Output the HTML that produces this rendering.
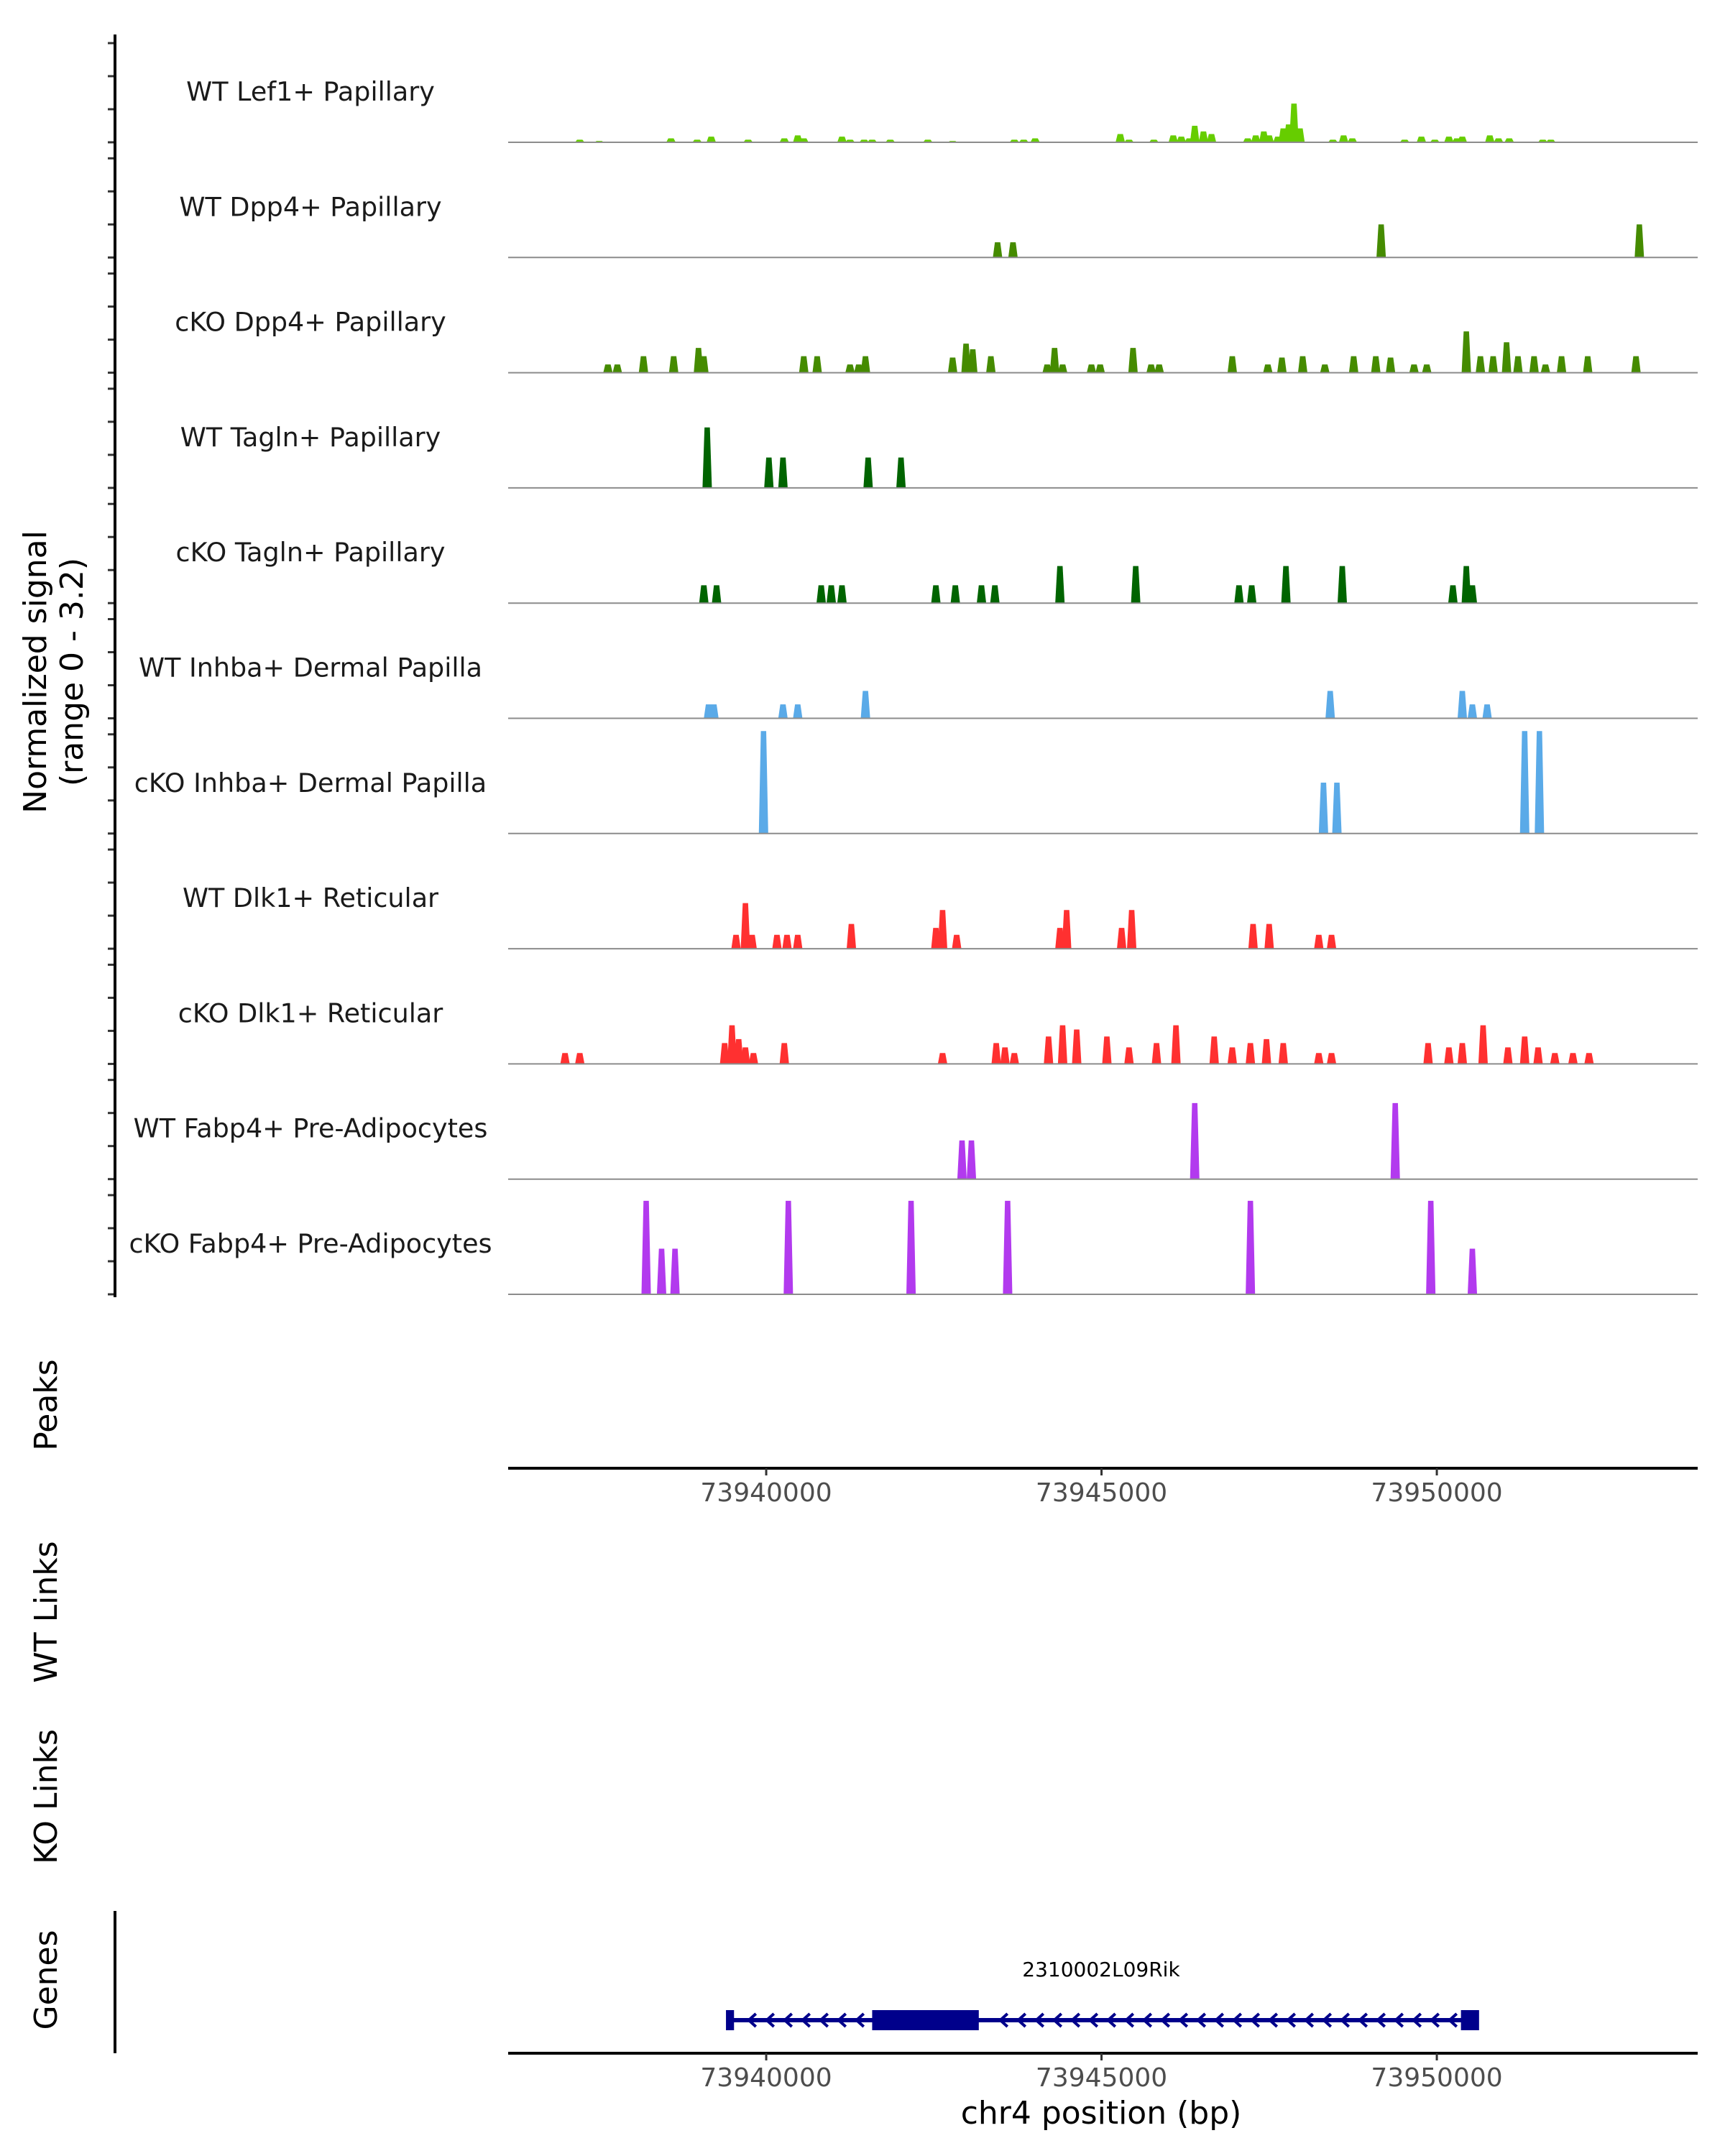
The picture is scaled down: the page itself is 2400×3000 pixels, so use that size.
<!DOCTYPE html>
<html><head><meta charset="utf-8"><style>
html,body{margin:0;padding:0;background:#fff;}
svg{display:block;font-family:"DejaVu Sans","Liberation Sans",sans-serif;}
</style></head><body>
<svg id="fig" width="2400" height="3000" viewBox="0 0 2400 3000" xmlns="http://www.w3.org/2000/svg">
<g id="tracks"></g>
<g id="axes"></g>
<g id="genes"></g>
<text x="64" y="935" transform="rotate(-90 64 935)" text-anchor="middle" font-size="44" fill="#000">Normalized signal</text>
<text x="115" y="935" transform="rotate(-90 115 935)" text-anchor="middle" font-size="44" fill="#000">(range 0 - 3.2)</text>
<text x="79" y="1955" transform="rotate(-90 79 1955)" text-anchor="middle" font-size="44" fill="#000">Peaks</text>
<text x="79" y="2243" transform="rotate(-90 79 2243)" text-anchor="middle" font-size="44" fill="#000">WT Links</text>
<text x="79" y="2500" transform="rotate(-90 79 2500)" text-anchor="middle" font-size="44" fill="#000">KO Links</text>
<text x="79" y="2755" transform="rotate(-90 79 2755)" text-anchor="middle" font-size="44" fill="#000">Genes</text>
<text x="1532" y="2955" text-anchor="middle" font-size="44" fill="#000">chr4 position (bp)</text>
</svg>
<script>
const NS='http://www.w3.org/2000/svg';
// positions in kb, values normalized signal
const trackNames=["WT Lef1+ Papillary","WT Dpp4+ Papillary","cKO Dpp4+ Papillary","WT Tagln+ Papillary","cKO Tagln+ Papillary","WT Inhba+ Dermal Papilla","cKO Inhba+ Dermal Papilla","WT Dlk1+ Reticular","cKO Dlk1+ Reticular","WT Fabp4+ Pre-Adipocytes","cKO Fabp4+ Pre-Adipocytes"];
const trackColors=["#66cd00","#458b00","#458b00","#006400","#006400","#5aaae8","#5aaae8","#ff3030","#ff3030","#b23aee","#b23aee"];
const lef1Pos=[73937.22,73937.51,73938.58,73938.97,73939.18,73939.73,73940.27,73940.47,73940.56,73941.13,73941.25,73941.46,73941.58,73941.85,73942.41,73942.78,73943.70,73943.84,73944.01,73945.28,73945.41,73945.78,73946.07,73946.19,73946.31,73946.39,73946.52,73946.64,73947.18,73947.30,73947.42,73947.50,73947.63,73947.71,73947.79,73947.87,73947.96,73948.45,73948.61,73948.74,73949.52,73949.77,73949.97,73950.18,73950.30,73950.38,73950.79,73950.92,73951.08,73951.58,73951.70];
const lef1Val=[.08,.04,.12,.08,.17,.08,.12,.21,.12,.17,.08,.08,.08,.08,.08,.04,.08,.08,.12,.25,.08,.08,.21,.17,.12,.5,.33,.25,.12,.21,.33,.21,.17,.42,.54,1.17,.42,.08,.21,.12,.08,.17,.08,.17,.12,.17,.21,.12,.12,.08,.08];
const wtDpp4Pos=[73943.45,73943.68,73949.17,73953.02];
const wtDpp4Val=[.46,.46,1.0,1.0];
const koDpp4Pos=[73937.64,73937.78,73938.17,73938.62,73938.99,73939.07,73940.56,73940.76,73941.25,73941.38,73941.48,73942.78,73942.98,73943.08,73943.35,73944.19,73944.30,73944.42,73944.85,73944.98,73945.47,73945.74,73945.86,73946.95,73947.48,73947.69,73948.00,73948.33,73948.76,73949.09,73949.31,73949.66,73949.85,73950.44,73950.65,73950.84,73951.04,73951.21,73951.45,73951.62,73951.86,73952.25,73952.97];
const koDpp4Val=[.25,.25,.5,.5,.75,.5,.5,.5,.25,.25,.5,.46,.88,.71,.5,.25,.75,.25,.25,.25,.75,.25,.25,.5,.25,.46,.5,.25,.5,.5,.46,.25,.25,1.25,.5,.5,.92,.5,.5,.25,.5,.5,.5];
const wtTaglnPos=[73939.12,73940.04,73940.25,73941.52,73942.01];
const wtTaglnVal=[1.83,.92,.92,.92,.92];
const koTaglnPos=[73939.07,73939.26,73940.82,73940.97,73941.13,73942.53,73942.82,73943.21,73943.41,73944.38,73945.51,73947.05,73947.24,73947.75,73948.59,73950.24,73950.44,73950.53];
const koTaglnVal=[.54,.54,.54,.54,.54,.54,.54,.54,.54,1.12,1.12,.54,.54,1.12,1.12,.54,1.12,.54];
const wtInhbaPos=[73939.14,73939.22,73940.25,73940.47,73941.48,73948.41,73950.38,73950.53,73950.75];
const wtInhbaVal=[.42,.42,.42,.42,.83,.83,.83,.42,.42];
const koInhbaPos=[73939.96,73948.31,73948.51,73951.31,73951.53];
const koInhbaVal=[3.1,1.54,1.54,3.1,3.1];
const wtDlk1Pos=[73939.55,73939.69,73939.79,73940.16,73940.31,73940.47,73941.27,73942.53,73942.63,73942.84,73944.38,73944.48,73945.30,73945.45,73947.26,73947.50,73948.24,73948.43];
const wtDlk1Val=[.42,1.38,.42,.42,.42,.42,.75,.63,1.17,.42,.63,1.17,.63,1.17,.75,.75,.42,.42];
const koDlk1Pos=[73937.00,73937.22,73939.38,73939.49,73939.59,73939.69,73939.81,73940.27,73942.63,73943.43,73943.56,73943.70,73944.21,73944.42,73944.63,73945.08,73945.41,73945.82,73946.11,73946.68,73946.95,73947.22,73947.46,73947.71,73948.24,73948.43,73949.87,73950.18,73950.38,73950.69,73951.06,73951.31,73951.51,73951.76,73952.03,73952.27];
const koDlk1Val=[.33,.33,.63,1.17,.75,.5,.33,.63,.33,.63,.5,.33,.83,1.17,1.04,.83,.5,.63,1.17,.83,.5,.63,.75,.63,.33,.33,.63,.5,.63,1.17,.5,.83,.5,.33,.33,.33];
const wtFabp4Pos=[73942.92,73943.06,73946.39,73949.38];
const wtFabp4Val=[1.17,1.17,2.3,2.3];
const koFabp4Pos=[73938.21,73938.44,73938.64,73940.33,73942.16,73943.60,73947.22,73949.91,73950.53];
const koFabp4Val=[2.83,1.38,1.38,2.83,2.83,2.83,2.83,2.83,1.38];
const xTicks=[73940000,73945000,73950000];
const geneExons=[[73939.40,73939.52],[73941.58,73943.17],[73950.36,73950.63]];
const geneSpan=[73939.45,73950.60];

const allPos=[lef1Pos,wtDpp4Pos,koDpp4Pos,wtTaglnPos,koTaglnPos,wtInhbaPos,koInhbaPos,wtDlk1Pos,koDlk1Pos,wtFabp4Pos,koFabp4Pos];
const allVal=[lef1Val,wtDpp4Val,koDpp4Val,wtTaglnVal,koTaglnVal,wtInhbaVal,koInhbaVal,wtDlk1Val,koDlk1Val,wtFabp4Val,koFabp4Val];

const X0=707,X1=2362,XMIN=73936152,XMAX=73953890;
function xs(bp){return X0+(bp-XMIN)/(XMAX-XMIN)*(X1-X0);}
function xk(kb){return xs(kb*1000);}
const UNIT=46;
function base(i){return 198+i*160.3;}
function ys(i,v){return base(i)-v*UNIT;}
function mk(tag,attrs,parent){const e=document.createElementNS(NS,tag);for(const k in attrs)e.setAttribute(k,attrs[k]);parent.appendChild(e);return e;}

const tracks=document.getElementById('tracks');
const axes=document.getElementById('axes');
for(let i=0;i<trackNames.length;i++){
  const g=mk('g',{},tracks);
  
  
  const b=base(i);
  const lab=mk('text',{x:432,y:b-58,'text-anchor':'middle','font-size':36.5,fill:'#1a1a1a'},g);
  lab.textContent=trackNames[i];
  
  
  const P=allPos[i],V=allVal[i];
  for(let j=0;j<P.length;j++){
    const xl=xk(P[j]-0.07),xr=xk(P[j]+0.07),tl=xk(P[j]-0.04),tr=xk(P[j]+0.04);
    const top=ys(i,V[j]);
    const p=mk('polygon',{points:`${xl},${b} ${tl},${top} ${tr},${top} ${xr},${b}`,fill:trackColors[i]},g);
    
    
  }
  const bl=mk('line',{x1:X0,x2:X1,y1:b,y2:b,stroke:'#8c8c8c','stroke-width':2},g);
  
  
  for(let t=0;t<=3;t++){
    const tk=mk('line',{x1:150,x2:160,y1:ys(i,t),y2:ys(i,t),stroke:'#333','stroke-width':3},axes);
    
    
  }
}
const ya=mk('line',{x1:160,x2:160,y1:48,y2:1805,stroke:'#000','stroke-width':4},axes);



function xaxis(y,name){
  const l=mk('line',{x1:X0,x2:X1,y1:y,y2:y,stroke:'#000','stroke-width':4},axes);
  
  
  for(const t of xTicks){
    const tk=mk('line',{x1:xs(t),x2:xs(t),y1:y,y2:y+10,stroke:'#333','stroke-width':3},axes);
    
    
    const tl=mk('text',{x:xs(t),y:y+46,'text-anchor':'middle','font-size':36,fill:'#4d4d4d'},axes);
    tl.textContent=String(t);
    
    
  }
}
xaxis(2043,'peaks-x-axis');
xaxis(2857,'genes-x-axis');
const gl=mk('line',{x1:160,x2:160,y1:2659,y2:2857,stroke:'#000','stroke-width':4},axes);



const genes=document.getElementById('genes');
const GY=2811;
const gline=mk('line',{x1:xk(geneSpan[0]),x2:xk(geneSpan[1]),y1:GY,y2:GY,stroke:'#00008b','stroke-width':6},genes);


for(let x=xk(geneSpan[0])+30;x<xk(geneSpan[1])-20;x+=25){
  const inEx=geneExons.some(e=>x>xk(e[0])-8&&x<xk(e[1])+8);
  if(inEx)continue;
  const ch=mk('polyline',{points:`${x+7},${GY-9} ${x-3},${GY} ${x+7},${GY+9}`,fill:'none',stroke:'#00008b','stroke-width':4},genes);
  
  
}
for(const e of geneExons){
  const r=mk('rect',{x:xk(e[0]),y:GY-14,width:xk(e[1])-xk(e[0]),height:28,fill:'#00008b'},genes);
  
  
}
const gn=mk('text',{x:1532,y:2750,'text-anchor':'middle','font-size':28,fill:'#000'},genes);
gn.textContent='2310002L09Rik';


</script>
</body></html>
